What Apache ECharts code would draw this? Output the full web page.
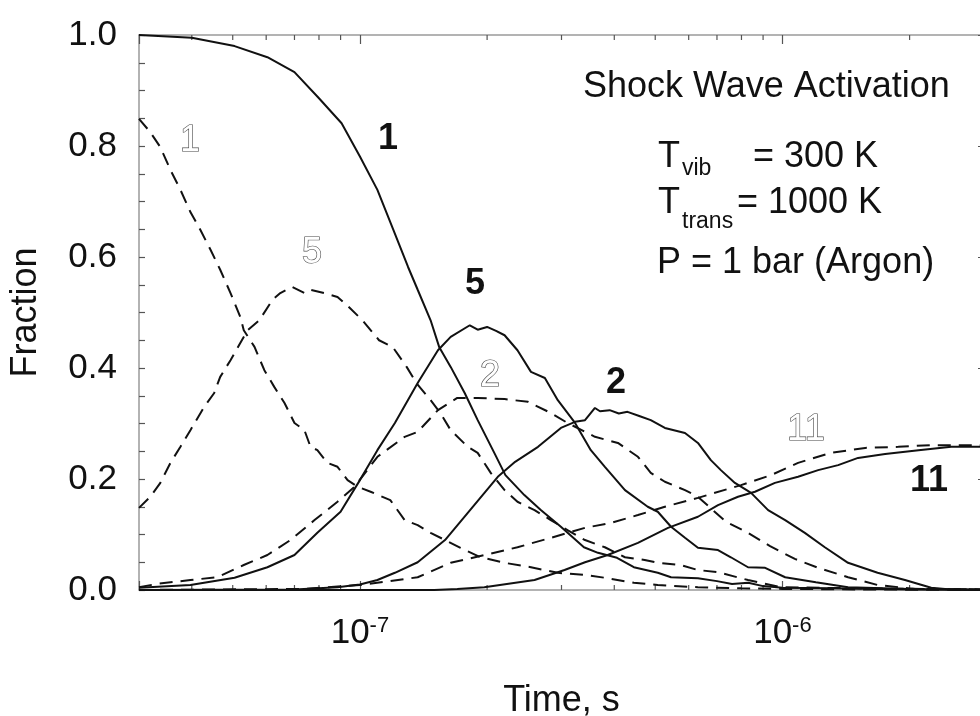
<!DOCTYPE html>
<html>
<head>
<meta charset="utf-8">
<script src="https://cdn.jsdelivr.net/npm/echarts@6/dist/echarts.min.js"></script>
<style>
  html, body { margin: 0; padding: 0; background: #fff; }
  #main { width: 980px; height: 716px; }
</style>
</head>
<body>
<div id="main"></div>
<script>
const FONT = '"Liberation Sans", Arial, Helvetica, sans-serif'

// [time (s), fraction]
const solid1 = [[3e-8,1.000],[4e-8,0.995],[5.05e-8,0.980],[6.04e-8,0.960],[7e-8,0.933],[8e-8,0.886],[9.05e-8,0.841],
  [1e-7,0.781],[1.1e-7,0.721],[1.2e-7,0.649],[1.3e-7,0.582],[1.37e-7,0.541],[1.47e-7,0.486],[1.54e-7,0.438],
  [1.64e-7,0.402],[1.77e-7,0.355],[1.9e-7,0.306],[2.08e-7,0.247],[2.21e-7,0.207],[2.45e-7,0.171],[2.68e-7,0.144],
  [2.99e-7,0.114],[3.39e-7,0.077],[3.66e-7,0.067],[4.06e-7,0.058],[4.45e-7,0.041],[5.07e-7,0.031],[5.45e-7,0.023],
  [6.31e-7,0.021],[7e-7,0.016],[7.6e-7,0.011],[8.3e-7,0.013],[9e-7,0.007],[1e-6,0.004],[1.3e-6,0.003],[2e-6,0.001],[3e-6,0.000]]

const solid5 = [[3e-8,0.004],[3.97e-8,0.009],[5.05e-8,0.022],[6.04e-8,0.041],[7e-8,0.063],[7.93e-8,0.103],[9e-8,0.141],
  [1e-7,0.198],[1.1e-7,0.252],[1.21e-7,0.301],[1.37e-7,0.373],[1.53e-7,0.432],[1.64e-7,0.456],[1.82e-7,0.477],
  [1.9e-7,0.469],[2e-7,0.474],[2.1e-7,0.467],[2.2e-7,0.459],[2.36e-7,0.432],[2.54e-7,0.393],[2.74e-7,0.382],
  [2.94e-7,0.342],[3.23e-7,0.301],[3.52e-7,0.252],[3.8e-7,0.222],[4.24e-7,0.180],[4.8e-7,0.150],[5.07e-7,0.141],
  [5.45e-7,0.114],[5.88e-7,0.094],[6.31e-7,0.076],[7.04e-7,0.072],[7.55e-7,0.059],[8.29e-7,0.041],[9.1e-7,0.040],
  [1.015e-6,0.023],[1.2e-6,0.014],[1.43e-6,0.005],[2e-6,0.002],[3e-6,0.001]]

const solid2 = [[3e-8,0.000],[7e-8,0.001],[8.85e-8,0.005],[1e-7,0.010],[1.1e-7,0.018],[1.21e-7,0.031],[1.37e-7,0.050],
  [1.59e-7,0.090],[1.8e-7,0.139],[2.12e-7,0.204],[2.33e-7,0.231],[2.64e-7,0.258],[2.99e-7,0.292],[3.23e-7,0.303],
  [3.41e-7,0.306],[3.6e-7,0.328],[3.7e-7,0.322],[3.9e-7,0.324],[4.1e-7,0.318],[4.3e-7,0.321],[4.6e-7,0.313],
  [4.88e-7,0.306],[5.27e-7,0.292],[5.88e-7,0.283],[6.31e-7,0.265],[6.77e-7,0.234],[7.15e-7,0.216],[7.72e-7,0.193],
  [8.43e-7,0.175],[9.25e-7,0.144],[1.015e-6,0.126],[1.13e-6,0.103],[1.26e-6,0.077],[1.43e-6,0.049],[1.68e-6,0.031],
  [1.95e-6,0.018],[2.25e-6,0.004],[2.5e-6,0.001],[3e-6,0.000]]

const solid11 = [[3e-8,0.000],[1.5e-7,0.000],[1.7e-7,0.002],[1.97e-7,0.005],[2.59e-7,0.018],[3.05e-7,0.036],
  [3.41e-7,0.050],[3.86e-7,0.063],[4.55e-7,0.085],[5.36e-7,0.112],[6.31e-7,0.132],[7.04e-7,0.153],[7.85e-7,0.168],
  [8.61e-7,0.177],[9.6e-7,0.193],[1.089e-6,0.204],[1.215e-6,0.216],[1.355e-6,0.225],[1.51e-6,0.238],[1.75e-6,0.245],
  [2.1e-6,0.252],[2.51e-6,0.258],[3e-6,0.258]]

const dashed1 = [[3e-8,0.849],[3.19e-8,0.825],[3.37e-8,0.798],[3.56e-8,0.757],[3.76e-8,0.721],[3.97e-8,0.681],
  [4.19e-8,0.649],[4.43e-8,0.613],[4.67e-8,0.577],[4.94e-8,0.535],[5.21e-8,0.492],[5.31e-8,0.468],[5.63e-8,0.438],
  [5.94e-8,0.396],[6.27e-8,0.366],[6.63e-8,0.337],[7e-8,0.301],[7.39e-8,0.288],[7.64e-8,0.258],[7.93e-8,0.252],
  [8.38e-8,0.229],[8.85e-8,0.222],[9.35e-8,0.198],[9.87e-8,0.186],[1.06e-7,0.177],[1.18e-7,0.162],[1.276e-7,0.126],
  [1.37e-7,0.117],[1.47e-7,0.103],[1.59e-7,0.090],[1.73e-7,0.076],[1.93e-7,0.059],[2.2e-7,0.049],[2.54e-7,0.041],
  [2.94e-7,0.031],[3.41e-7,0.027],[3.8e-7,0.022],[4.45e-7,0.013],[5.07e-7,0.009],[6.31e-7,0.005],[8e-7,0.003],
  [1e-6,0.002],[1.5e-6,0.001],[3e-6,0.000]]

const dashed5 = [[3e-8,0.148],[3.19e-8,0.168],[3.37e-8,0.193],[3.56e-8,0.229],[3.76e-8,0.258],[3.97e-8,0.288],
  [4.28e-8,0.330],[4.52e-8,0.355],[4.67e-8,0.384],[4.94e-8,0.414],[5.21e-8,0.445],[5.42e-8,0.468],[5.78e-8,0.486],
  [6.21e-8,0.523],[6.48e-8,0.535],[6.92e-8,0.546],[7.39e-8,0.535],[7.64e-8,0.541],[8.24e-8,0.535],[8.85e-8,0.528],
  [9.29e-8,0.514],[1.014e-7,0.486],[1.11e-7,0.450],[1.195e-7,0.438],[1.29e-7,0.402],[1.36e-7,0.373],[1.47e-7,0.342],
  [1.55e-7,0.319],[1.64e-7,0.288],[1.8e-7,0.258],[1.9e-7,0.247],[2.04e-7,0.211],[2.2e-7,0.180],[2.36e-7,0.159],
  [2.59e-7,0.144],[2.83e-7,0.126],[3.1e-7,0.108],[3.41e-7,0.090],[3.8e-7,0.077],[4.24e-7,0.059],[4.72e-7,0.054],
  [5.07e-7,0.049],[5.75e-7,0.045],[6.31e-7,0.036],[7.04e-7,0.032],[8.29e-7,0.018],[9.9e-7,0.005],[1.5e-6,0.003],
  [3e-6,0.001]]

const dashed2 = [[3e-8,0.005],[3.31e-8,0.011],[3.97e-8,0.018],[4.6e-8,0.023],[5.31e-8,0.045],[6.04e-8,0.063],
  [6.85e-8,0.090],[7.81e-8,0.126],[8.85e-8,0.159],[9.71e-8,0.186],[1.1e-7,0.240],[1.276e-7,0.276],[1.37e-7,0.285],
  [1.53e-7,0.324],[1.7e-7,0.346],[1.9e-7,0.346],[2.2e-7,0.344],[2.5e-7,0.339],[2.83e-7,0.319],[3.1e-7,0.301],
  [3.6e-7,0.276],[4.08e-7,0.265],[4.55e-7,0.240],[4.88e-7,0.211],[5.27e-7,0.195],[5.88e-7,0.180],[6.31e-7,0.168],
  [7.35e-7,0.123],[8.29e-7,0.103],[9.35e-7,0.079],[1.07e-6,0.056],[1.215e-6,0.040],[1.43e-6,0.023],[1.68e-6,0.009],
  [2.06e-6,0.002],[3e-6,0.001]]

const dashed11 = [[3e-8,0.000],[7.39e-8,0.002],[1e-7,0.009],[1.18e-7,0.016],[1.37e-7,0.023],[1.64e-7,0.049],
  [1.97e-7,0.063],[2.36e-7,0.077],[2.83e-7,0.094],[3.41e-7,0.112],[3.93e-7,0.121],[4.55e-7,0.135],[5.27e-7,0.150],
  [6.31e-7,0.166],[7.98e-7,0.189],[9.4e-7,0.207],[1.089e-6,0.229],[1.3e-6,0.247],[1.57e-6,0.256],[1.88e-6,0.258],
  [2.25e-6,0.261],[3e-6,0.261]]

const minorTicksX = [4e-8,5e-8,6e-8,7e-8,8e-8,9e-8,2e-7,3e-7,4e-7,5e-7,6e-7,7e-7,8e-7,9e-7,2e-6]

const chart = echarts.init(document.getElementById('main'))

const INK = '#111'
const solidStyle = { color: INK, width: 2, type: 'solid' }
const dashStyle = { color: INK, width: 2, type: [13, 8] }

function curve(name, data, style) {
  return { name, type: 'line', data, showSymbol: false, symbol: 'none', smooth: false,
    lineStyle: style, itemStyle: { color: INK }, z: 3, silent: true }
}

function powLabel(v) {
  const e = Math.log10(v)
  if (Math.abs(e - Math.round(e)) > 1e-6) return ''
  return '{b|10}{s|' + Math.round(e) + '}'
}

const axisLineStyle = { color: '#9a9a9a', width: 1.5 }
const tickStyle = { color: '#555', width: 1.2 }

function txt(text, x, y, opts) {
  return { type: 'text', x, y, silent: true, z: 10,
    style: Object.assign({ text, font: '36px ' + FONT, fill: INK, align: 'left', verticalAlign: 'middle' }, opts || {}) }
}
const bold = { font: 'bold 36px ' + FONT, align: 'center' }
const outline = { font: '36px ' + FONT, align: 'center', fill: '#fff', stroke: '#444', lineWidth: 1.2 }

const option = {
  animation: false,
  backgroundColor: '#fff',
  grid: { left: 139, width: 845, top: 35, height: 555, containLabel: false, outerBoundsMode: 'none' },
  xAxis: [
    {
      type: 'log', logBase: 10, min: 3e-8, max: 3e-6, position: 'bottom',
      name: 'Time, s', nameLocation: 'middle', nameGap: 93,
      nameTextStyle: { fontFamily: FONT, fontSize: 36, color: INK },
      axisLine: { onZero: false, lineStyle: axisLineStyle },
      axisTick: { inside: true, length: 9, lineStyle: tickStyle },
      axisLabel: {
        margin: 25, formatter: powLabel, color: INK,
        rich: {
          b: { fontFamily: FONT, fontSize: 35, lineHeight: 36, color: INK },
          s: { fontFamily: FONT, fontSize: 22, lineHeight: 22, verticalAlign: 'top', color: INK }
        }
      },
      splitLine: { show: false }, minorTick: { show: false }
    },
    {
      type: 'log', logBase: 10, min: 3e-8, max: 3e-6, position: 'top',
      axisLine: { onZero: false, lineStyle: axisLineStyle },
      axisTick: { inside: true, length: 9, lineStyle: tickStyle },
      axisLabel: { show: false }, splitLine: { show: false }
    }
  ],
  yAxis: [
    {
      type: 'value', min: 0, max: 1, interval: 0.2, position: 'left',
      name: 'Fraction', nameLocation: 'middle', nameGap: 95,
      nameTextStyle: { fontFamily: FONT, fontSize: 36, color: INK },
      axisLine: { show: true, onZero: false, lineStyle: axisLineStyle },
      axisTick: { show: true, inside: true, length: 6, lineStyle: tickStyle },
      minorTick: { show: true, splitNumber: 4, length: 6, lineStyle: tickStyle },
      axisLabel: { margin: 22, fontFamily: FONT, fontSize: 35, color: INK, padding: [0, 0, 11, 0],
        formatter: v => v.toFixed(1) },
      splitLine: { show: false }, minorSplitLine: { show: false }
    },
    {
      type: 'value', min: 0, max: 1, interval: 0.2, position: 'right',
      axisLine: { show: true, onZero: false, lineStyle: axisLineStyle },
      axisTick: { show: true, inside: true, length: 6, lineStyle: tickStyle },
      axisLabel: { show: false }, splitLine: { show: false }
    }
  ],
  series: [
    curve('1', solid1, solidStyle),
    curve('5', solid5, solidStyle),
    curve('2', solid2, solidStyle),
    curve('11', solid11, solidStyle),
    curve('1 (dashed)', dashed1, dashStyle),
    curve('5 (dashed)', dashed5, dashStyle),
    curve('2 (dashed)', dashed2, dashStyle),
    curve('11 (dashed)', dashed11, dashStyle),
    {
      type: 'custom', silent: true, clip: false, z: 2,
      data: minorTicksX.map(t => [t, 0]),
      renderItem: (params, api) => {
        const t = api.value(0)
        const b = api.coord([t, 0])
        const tp = api.coord([t, 1])
        return { type: 'group', children: [
          { type: 'line', shape: { x1: b[0], y1: b[1], x2: b[0], y2: b[1] - 5 }, style: { stroke: '#555', lineWidth: 1.2 } },
          { type: 'line', shape: { x1: tp[0], y1: tp[1], x2: tp[0], y2: tp[1] + 5 }, style: { stroke: '#555', lineWidth: 1.2 } }
        ] }
      }
    }
  ],
  graphic: [
    txt('Shock Wave Activation', 583, 87),
    txt('T', 658, 157),
    txt('vib', 682, 169, { font: '23px ' + FONT }),
    txt('= 300 K', 753, 157),
    txt('T', 658, 203.5),
    txt('trans', 682, 222, { font: '23px ' + FONT }),
    txt('= 1000 K', 737, 203.5),
    txt('P = 1 bar (Argon)', 657, 263.5),
    txt('1', 388, 139, bold),
    txt('5', 475, 284, bold),
    txt('2', 616, 383, bold),
    txt('11', 929, 481, bold),
    txt('1', 190, 141, outline),
    txt('5', 312, 253, outline),
    txt('2', 490, 376, outline),
    txt('11', 806, 430, outline)
  ]
}

chart.setOption(option)
</script>
</body>
</html>
